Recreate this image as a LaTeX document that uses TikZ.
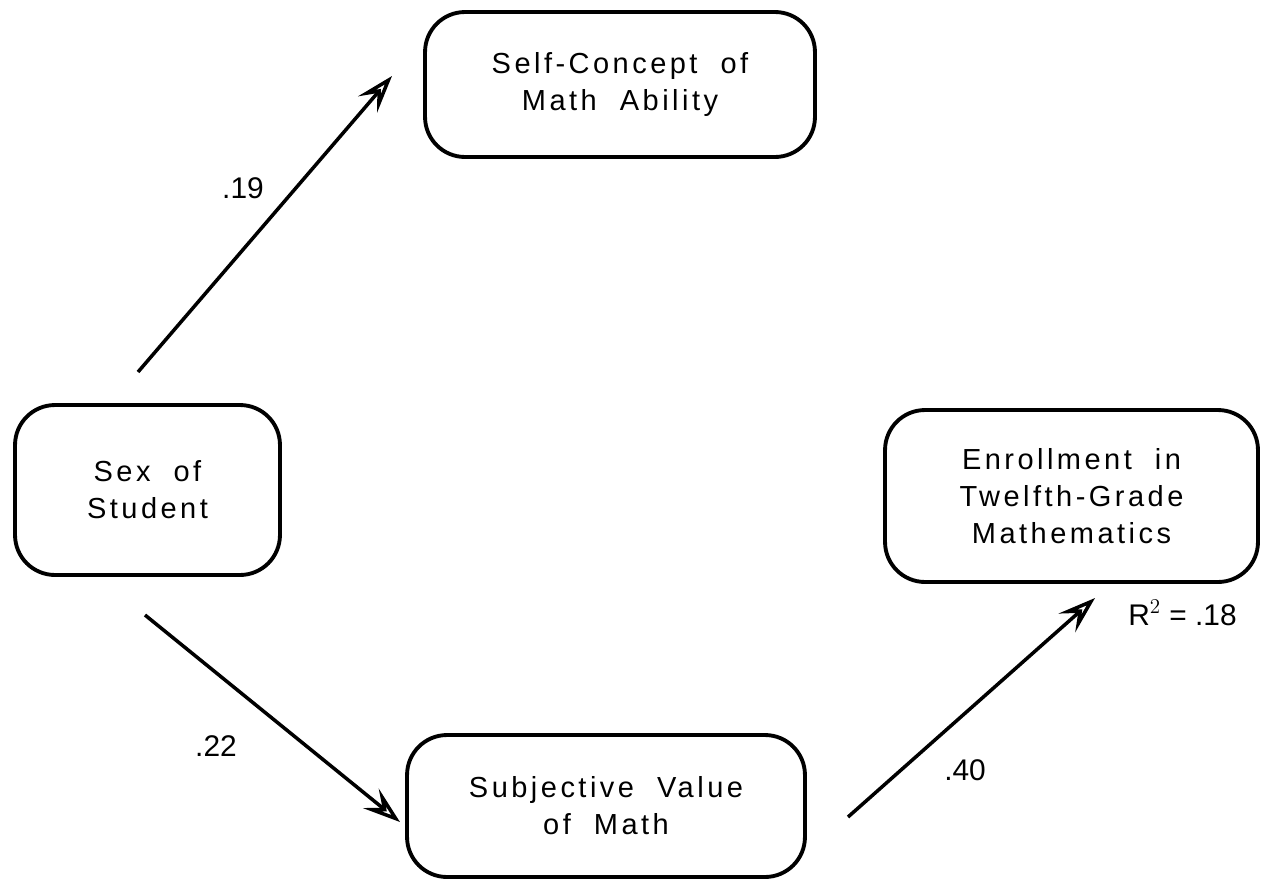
\documentclass[tikz,border=0pt]{standalone}
\usepackage{fontspec}
\setmainfont{Liberation Sans}
\newfontfamily\spacedfont[LetterSpace=12]{Liberation Sans}
\usetikzlibrary{arrows.meta}
\begin{document}
\begin{tikzpicture}[x=0.02cm,y=-0.02cm,
  box/.style={draw, line width=2.2pt, rounded corners=0.8cm, align=center, inner sep=0pt,
    font=\spacedfont\fontsize{16.5}{21}\selectfont},
  arr/.style={line width=2pt, -{Stealth[open,length=0.75cm,width=0.5cm,inset=0.3cm]}},
  lbl/.style={font=\fontsize{17}{19}\selectfont, inner sep=0pt}]
\useasboundingbox (0,0) rectangle (1274,880);

\node[box, minimum width=7.8cm, minimum height=2.9cm] (self) at (620,84.5) {Self-Concept\ \ of\\Math\ \ Ability};
\node[box, minimum width=5.3cm, minimum height=3.4cm] (sex) at (147.5,490) {Sex\ \ of\\Student};
\node[box, minimum width=7.46cm, minimum height=3.44cm] (enr) at (1071.5,496) {Enrollment\ \ in\\Twelfth-Grade\\Mathematics};
\node[box, minimum width=7.96cm, minimum height=2.84cm] (subj) at (606,806) {Subjective\ \ Value\\of\ \ Math};

\coordinate (a1s) at (138,372);
\coordinate (a1e) at (392,76);
\coordinate (a2s) at (145,615);
\coordinate (a2e) at (400,822);
\coordinate (a3s) at (848,817);
\coordinate (a3e) at (1095,598);

\draw[arr] (a1s) -- (a1e);
\draw[arr] (a2s) -- (a2e);
\draw[arr] (a3s) -- (a3e);

\node[lbl] (l19) at (243,188) {.19};
\node[lbl] (l22) at (216,746) {.22};
\node[lbl] (l40) at (965,770) {.40};
\node[lbl, anchor=base west] (r2) at (1128,625) {R$^2$ = .18};
\end{tikzpicture}
\end{document}
